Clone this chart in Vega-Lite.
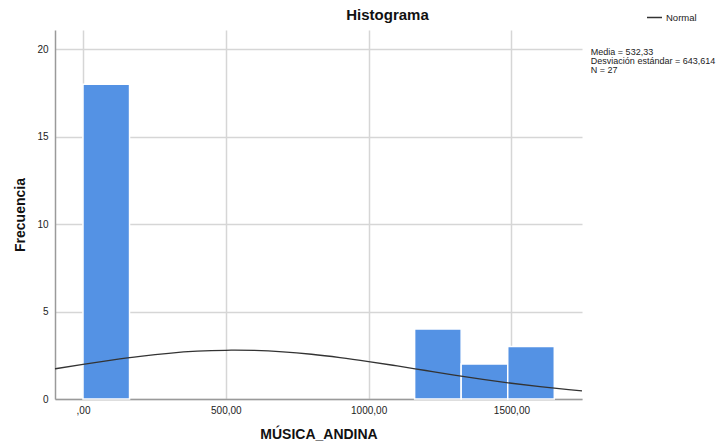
{
  "$schema": "https://vega.github.io/schema/vega-lite/v6.json",
  "width": 527,
  "height": 369,
  "autosize": {"type": "none"},
  "padding": {"left": 55, "top": 30, "right": 146, "bottom": 47},
  "background": "white",
  "config": {"font": "Liberation Sans", "view": {"stroke": null}},
  "title": {"text": "Histograma", "fontSize": 15, "fontWeight": "bold", "color": "#111111", "anchor": "middle", "frame": "group", "dx": 69, "dy": 21, "offset": 7},
  "datasets": {
    "bars": [
      {"bin_start": 0, "bin_end": 163, "count": 18},
      {"bin_start": 1161, "bin_end": 1324, "count": 4},
      {"bin_start": 1324, "bin_end": 1487, "count": 2},
      {"bin_start": 1487, "bin_end": 1650, "count": 3}
    ],
    "curve": [
      {"x": -98, "density": 1.727},
      {"x": 0, "density": 1.982},
      {"x": 100, "density": 2.226},
      {"x": 200, "density": 2.442},
      {"x": 300, "density": 2.614},
      {"x": 400, "density": 2.732},
      {"x": 500, "density": 2.786},
      {"x": 532, "density": 2.79},
      {"x": 600, "density": 2.775},
      {"x": 700, "density": 2.697},
      {"x": 800, "density": 2.559},
      {"x": 900, "density": 2.37},
      {"x": 1000, "density": 2.143},
      {"x": 1100, "density": 1.891},
      {"x": 1200, "density": 1.629},
      {"x": 1300, "density": 1.37},
      {"x": 1400, "density": 1.124},
      {"x": 1500, "density": 0.901},
      {"x": 1600, "density": 0.705},
      {"x": 1700, "density": 0.538},
      {"x": 1747, "density": 0.47}
    ],
    "stats": [
      {"label": "Media = 532,33\nDesviación estándar = 643,614\nN = 27"}
    ]
  },
  "layer": [
    {
      "data": {"name": "bars"},
      "mark": {"type": "rect", "color": "#5492e4", "stroke": "white", "strokeWidth": 1.5},
      "encoding": {
        "x": {
          "field": "bin_start", "type": "quantitative",
          "scale": {"domain": [-98, 1747], "nice": false, "zero": false},
          "axis": {
            "title": "MÚSICA_ANDINA", "values": [0, 500, 1000, 1500],
            "labelExpr": "datum.value == 0 ? ',00' : replace(format(datum.value, '.2f'), '.', ',')",
            "grid": true, "gridColor": "#d6d6d6", "gridWidth": 1.5,
            "ticks": false, "labelPadding": 6, "labelFontSize": 10, "labelColor": "#222222",
            "domainColor": "#9a9a9a", "domainWidth": 1.5,
            "titleFontSize": 14, "titleFontWeight": "bold", "titlePadding": 12, "titleColor": "#111111"
          }
        },
        "x2": {"field": "bin_end"},
        "y": {
          "field": "count", "type": "quantitative",
          "scale": {"domain": [0, 21.1], "nice": false},
          "axis": {
            "title": "Frecuencia", "values": [0, 5, 10, 15, 20],
            "grid": true, "gridColor": "#d6d6d6", "gridWidth": 1.5,
            "ticks": false, "labelPadding": 7, "labelFontSize": 10, "labelColor": "#222222",
            "domainColor": "#9a9a9a", "domainWidth": 1.5,
            "titleFontSize": 14, "titleFontWeight": "bold", "titlePadding": 9, "titleColor": "#111111"
          }
        },
        "y2": {"datum": 0}
      }
    },
    {
      "data": {"name": "curve"},
      "mark": {"type": "line", "interpolate": "monotone", "strokeWidth": 1.3},
      "encoding": {
        "x": {"field": "x", "type": "quantitative"},
        "y": {"field": "density", "type": "quantitative"},
        "stroke": {
          "datum": "Normal", "type": "nominal",
          "scale": {"range": ["#333333"]},
          "legend": {
            "orient": "none", "legendX": 591, "legendY": -21, "title": null,
            "symbolType": "stroke", "symbolSize": 225, "symbolStrokeWidth": 1.5,
            "labelFontSize": 9.5, "labelOffset": 3, "padding": 0, "labelColor": "#222222"
          }
        }
      }
    },
    {
      "data": {"name": "stats"},
      "mark": {"type": "text", "align": "left", "baseline": "top", "fontSize": 9, "lineBreak": "\n", "lineHeight": 9, "color": "#222222"},
      "encoding": {
        "x": {"datum": 1778, "type": "quantitative"},
        "y": {"datum": 20.05, "type": "quantitative"},
        "text": {"field": "label"}
      }
    }
  ]
}
